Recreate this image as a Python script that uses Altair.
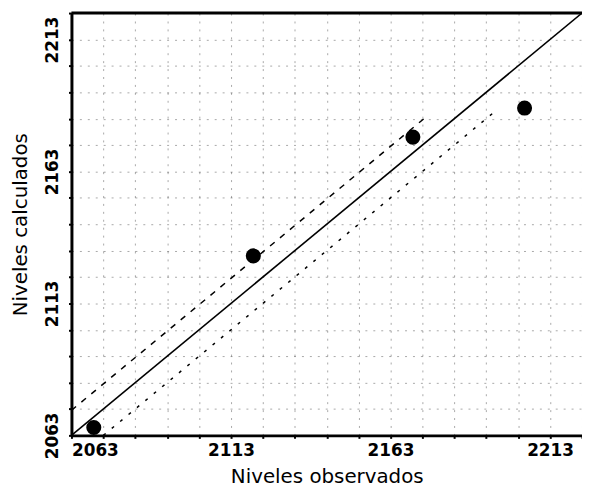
import altair as alt
import pandas as pd

# observed vs calculated levels
obs = [2070, 2120, 2170, 2205]
calc = [2066, 2131, 2176, 2187]

# 1:1 line
line_x = [2063, 2223]
line_y = [2063, 2223]

# upper band
up_x = [2063, 2175]
up_y = [2072.5, 2184.5]

# lower band
lo_x = [2073, 2195]
lo_y = [2063, 2185]

dom = [2063, 2223]
tick_vals = list(range(2063, 2224, 10))
label_vals = [2063, 2113, 2163, 2213]

FONT = "DejaVu Sans"

pts = pd.DataFrame({"obs": obs, "calc": calc})
ln = pd.DataFrame({"obs": line_x, "calc": line_y})
up = pd.DataFrame({"obs": up_x, "calc": up_y})
lo = pd.DataFrame({"obs": lo_x, "calc": lo_y})
top = pd.DataFrame({"calc": [dom[1]]})

lab_expr = "indexof([" + ",".join(str(v) for v in label_vals) + "], datum.value) >= 0 ? datum.label : ''"

common = dict(values=tick_vals, tickCount=40, labelExpr=lab_expr, format="d", grid=True,
              gridDash=[2, 6], gridColor="#000", gridOpacity=0.35, gridWidth=1,
              domainColor="#000", domainWidth=3, tickColor="#000",
              tickSize=3, tickWidth=2, labelOverlap=False,
              labelFont=FONT, labelFontSize=17, labelFontWeight="bold",
              labelColor="#000",
              titleFont=FONT, titleFontSize=20, titleFontWeight="normal",
              titleColor="#000")

xenc = alt.X("obs:Q", scale=alt.Scale(domain=dom, nice=False, zero=False),
             axis=alt.Axis(title="Niveles observados", labelPadding=4, titlePadding=9, **common))
yenc = alt.Y("calc:Q", scale=alt.Scale(domain=dom, nice=False, zero=False),
             axis=alt.Axis(title="Niveles calculados", labelAngle=270, labelFlush=True,
                           labelAlign="center", labelBaseline="bottom",
                           labelPadding=7, titlePadding=13, **common))

base_line = alt.Chart(ln).mark_line(color="#000", strokeWidth=1.6).encode(x=xenc, y=yenc)
upper = alt.Chart(up).mark_line(color="#000", strokeWidth=1.5, strokeDash=[6, 7]).encode(x="obs:Q", y="calc:Q")
lower = alt.Chart(lo).mark_line(color="#000", strokeWidth=1.5, strokeDash=[3, 8]).encode(x="obs:Q", y="calc:Q")
points = alt.Chart(pts).mark_point(filled=True, color="#000", size=230, opacity=1).encode(x="obs:Q", y="calc:Q")
topline = alt.Chart(top).mark_rule(color="#000", strokeWidth=3).encode(y="calc:Q")

chart = alt.layer(base_line, upper, lower, points, topline).properties(
    width=515, height=426,
    autosize=alt.AutoSizeParams(type="none"),
    padding={"left": 64, "top": 3, "right": 0, "bottom": 54},
    background="white",
).configure_view(stroke=None)

chart.save("out.html", embed_options={"renderer": "svg", "actions": False})
